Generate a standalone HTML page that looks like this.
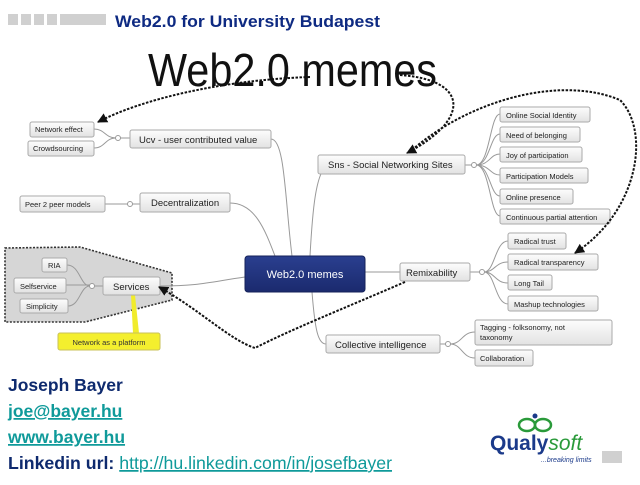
<!DOCTYPE html>
<html><head><meta charset="utf-8"><style>
body{margin:0;width:640px;height:480px;background:#fff;overflow:hidden;font-family:"Liberation Sans",sans-serif}
</style></head><body>
<svg width="640" height="480" xmlns="http://www.w3.org/2000/svg" font-family="Liberation Sans, sans-serif">
<defs>
<linearGradient id="g" x1="0" y1="0" x2="0" y2="1"><stop offset="0" stop-color="#fdfdfd"/><stop offset="1" stop-color="#e2e2e2"/></linearGradient>
<linearGradient id="b" x1="0" y1="0" x2="0" y2="1"><stop offset="0" stop-color="#2a3f8f"/><stop offset="1" stop-color="#1b2a6e"/></linearGradient>
<marker id="ah" viewBox="0 0 10 10" refX="9" refY="5" markerWidth="5" markerHeight="5" orient="auto"><path d="M0,0L10,5L0,10z" fill="#111"/></marker>
</defs>
<g fill="#d0d0d0"><rect x="8" y="14" width="10" height="11"/><rect x="21" y="14" width="10" height="11"/><rect x="34" y="14" width="10" height="11"/><rect x="47" y="14" width="10" height="11"/><rect x="60" y="14" width="46" height="11"/></g>
<text x="115" y="27" font-size="17" font-weight="bold" fill="#0e2a82" textLength="265" lengthAdjust="spacingAndGlyphs">Web2.0 for University Budapest</text>
<text x="148" y="86" font-size="46" fill="#111" textLength="289" lengthAdjust="spacingAndGlyphs">Web2.0 memes</text>
<path d="M5,248 L80,247 L172,273 L172,300 L85,322 L5,322Z" fill="#d6d6d6" stroke="#333" stroke-width="1.6" stroke-dasharray="2,1.5"/>
<g fill="none" stroke="#999" stroke-width="1">
<path d="M94,129 C105,129 105,138 116,138 M94,148 C105,148 105,138 116,138 M120,138 H130"/>
<path d="M271,139 C285,139 285,200 292,256"/>
<path d="M105,204 H128 M132,204 H140"/>
<path d="M230,203 C255,203 265,230 275,256"/>
<path d="M330,165 C315,165 312,220 310,256"/>
<path d="M465,165 H472 M476,165 C490,165 490,114 500,114 M476,165 C490,165 490,134 500,134 M476,165 C490,165 490,154 500,154 M476,165 C490,165 490,175 500,175 M476,165 C490,165 490,196 500,196 M476,165 C490,165 490,216 500,216"/>
<path d="M365,272 H400"/>
<path d="M470,272 H480 M484,272 C495,272 495,241 508,241 M484,272 C495,272 495,262 508,262 M484,272 C495,272 495,283 508,283 M484,272 C495,272 495,304 508,304"/>
<path d="M312,292 C315,330 318,344 326,344"/>
<path d="M440,344 H446 M450,344 C462,344 462,332 475,332 M450,344 C462,344 462,358 475,358"/>
<path d="M160,286 C200,286 210,282 245,277"/>
<path d="M67,265 C80,265 80,286 90,286 M66,285 H90 M68,306 C80,306 80,286 90,286 M94,286 H103"/>
</g>
<g fill="#fff" stroke="#999"><circle cx="118" cy="138" r="2.5"/><circle cx="130" cy="204" r="2.5"/><circle cx="474" cy="165" r="2.5"/><circle cx="482" cy="272" r="2.5"/><circle cx="448" cy="344" r="2.5"/><circle cx="92" cy="286" r="2.5"/></g>
<path d="M131,295 L133,333 L139,333 L135,295Z" fill="#f1ec2c"/>
<rect x="58" y="333" width="102" height="17" rx="2" fill="#f4ef2e" stroke="#c9c25a"/>
<text x="109" y="345" font-size="7.5" text-anchor="middle" fill="#333">Network as a platform</text>
<g stroke="#aaa" fill="url(#g)">
<rect x="30" y="122" width="64" height="15" rx="2"/><rect x="28" y="141" width="66" height="15" rx="2"/>
<rect x="130" y="130" width="141" height="18" rx="2"/>
<rect x="20" y="196" width="85" height="16" rx="2"/><rect x="140" y="193" width="90" height="19" rx="2"/>
<rect x="318" y="155" width="147" height="19" rx="2"/>
<rect x="500" y="107" width="90" height="15" rx="2"/><rect x="500" y="127" width="80" height="15" rx="2"/><rect x="500" y="147" width="82" height="15" rx="2"/><rect x="500" y="168" width="88" height="15" rx="2"/><rect x="500" y="189" width="73" height="15" rx="2"/><rect x="500" y="209" width="110" height="15" rx="2"/>
<rect x="42" y="258" width="25" height="14" rx="2"/><rect x="14" y="278" width="52" height="15" rx="2"/><rect x="20" y="299" width="48" height="14" rx="2"/>
<rect x="103" y="277" width="57" height="18" rx="2"/>
<rect x="400" y="263" width="70" height="18" rx="2"/>
<rect x="508" y="233" width="58" height="16" rx="2"/><rect x="508" y="254" width="90" height="16" rx="2"/><rect x="508" y="275" width="44" height="15" rx="2"/><rect x="508" y="296" width="90" height="15" rx="2"/>
<rect x="326" y="335" width="114" height="18" rx="2"/>
<rect x="475" y="320" width="137" height="25" rx="2"/><rect x="475" y="350" width="58" height="16" rx="2"/>
</g>
<rect x="245" y="256" width="120" height="36" rx="3" fill="url(#b)" stroke="#15225a"/>
<text x="305" y="278" font-size="11" fill="#fff" text-anchor="middle">Web2.0 memes</text>
<g font-size="7.5" fill="#222">
<text x="35" y="132">Network effect</text><text x="33" y="151">Crowdsourcing</text>
<text x="25" y="207">Peer 2 peer models</text>
<text x="506" y="118">Online Social Identity</text><text x="506" y="138">Need of belonging</text><text x="506" y="158">Joy of participation</text><text x="506" y="179">Participation Models</text><text x="506" y="200">Online presence</text><text x="506" y="220">Continuous partial attention</text>
<text x="48" y="268">RIA</text><text x="20" y="289">Selfservice</text><text x="26" y="309">Simplicity</text>
<text x="514" y="244">Radical trust</text><text x="514" y="265">Radical transparency</text><text x="514" y="286">Long Tail</text><text x="514" y="307">Mashup technologies</text>
<text x="480" y="330">Tagging - folksonomy, not</text><text x="480" y="340">taxonomy</text><text x="480" y="361">Collaboration</text>
</g>
<g font-size="9.5" fill="#222">
<text x="139" y="143">Ucv - user contributed value</text>
<text x="151" y="206">Decentralization</text>
<text x="328" y="168">Sns - Social Networking Sites</text>
<text x="113" y="290">Services</text>
<text x="406" y="276">Remixability</text>
<text x="335" y="348">Collective intelligence</text>
</g>
<g fill="none" stroke="#111" stroke-width="2" stroke-dasharray="2.5,1.5" marker-end="url(#ah)">
<path d="M310,77 C220,80 140,100 98,122"/>
<path d="M400,75 C470,80 470,120 407,153"/>
<path d="M412,150 C470,100 560,75 620,100 C650,130 640,210 575,253"/>
<path d="M405,282 C340,310 290,330 255,348 C230,340 200,310 159,287"/>
</g>
<text x="8" y="391" font-size="17.5" font-weight="bold" fill="#0e2a6e">Joseph Bayer</text>
<text x="8" y="417" font-size="17.5" font-weight="bold" fill="#0f9a9a" text-decoration="underline">joe@bayer.hu</text>
<text x="8" y="443" font-size="17.5" font-weight="bold" fill="#0f9a9a" text-decoration="underline">www.bayer.hu</text>
<text x="8" y="469" font-size="17.5" font-weight="bold" fill="#0e2a6e" textLength="384" lengthAdjust="spacingAndGlyphs">Linkedin url: <tspan font-weight="normal" fill="#0f9a9a" text-decoration="underline">http://hu.linkedin.com/in/josefbayer</tspan></text>
<g fill="none" stroke="#2a9a3a" stroke-width="2.5"><ellipse cx="527" cy="425" rx="8" ry="6"/><ellipse cx="543" cy="425" rx="8" ry="6"/></g>
<circle cx="535" cy="416" r="2.5" fill="#1b3a8a"/>
<text x="490" y="450" font-size="21" font-weight="bold" fill="#1b3a8a">Qualy<tspan font-style="italic" font-weight="normal" fill="#2a9a3a">soft</tspan></text>
<text x="541" y="462" font-size="7" font-style="italic" fill="#1b3a8a">...breaking limits</text>
<rect x="602" y="451" width="20" height="12" fill="#d0d0d0"/>
</svg>
</body></html>
